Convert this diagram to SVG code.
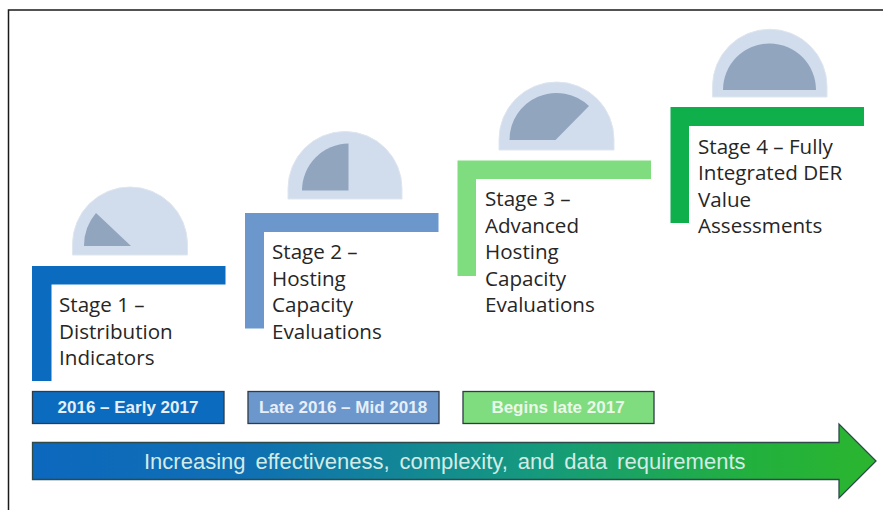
<svg xmlns="http://www.w3.org/2000/svg" width="883" height="510" viewBox="0 0 883 510">
<style>
.gauge{fill:#d1ddec;stroke:#dfe6ef;stroke-width:1}
.fill{fill:#91a5bf}
.stage{font-family:"Open Sans","Noto Sans",sans-serif;font-size:20.6px;fill:#262626}
.date{font-family:"Liberation Sans",Arial,sans-serif;font-size:17px;font-weight:700;text-anchor:middle}
.box{stroke:#2f3b46;stroke-width:1.3}
</style>
<defs>
<linearGradient id="flow" gradientUnits="userSpaceOnUse" x1="32" y1="0" x2="876" y2="0">
<stop offset="0" stop-color="#0c68bd"/>
<stop offset="0.25" stop-color="#0f6fb4"/>
<stop offset="0.6" stop-color="#159a7c"/>
<stop offset="0.85" stop-color="#22b03e"/>
<stop offset="1" stop-color="#2bb52f"/>
</linearGradient>
</defs>
<rect width="883" height="510" fill="#ffffff"/>
<path d="M8.500 510V10H883" fill="none" stroke="#1a1a1a" stroke-width="1.500"/>

<g id="stage-1">
<path class="gauge" d="M72.500 255V244.500A57.500 57.500 0 0 1 187.500 244.500V255Z"/>
<path class="fill" d="M84 246A50 50 0 0 1 96 213L131 246Z"/>
<path d="M32 266H225.500V284.500H51.500V381H32Z" fill="#0b6cbf"/>
<text class="stage" x="59" y="312">Stage 1 –</text>
<text class="stage" x="59" y="338.500">Distribution</text>
<text class="stage" x="59" y="365">Indicators</text>
</g>

<g id="stage-2">
<path class="gauge" d="M288 199V188.500A57 57 0 0 1 402 188.500V199Z"/>
<path class="fill" d="M302 190.500A47 47 0 0 1 348.500 143.500V190.500Z"/>
<path d="M245 213H438.500V232H264V328.500H245Z" fill="#6b97cd"/>
<text class="stage" x="272" y="259">Stage 2 –</text>
<text class="stage" x="272" y="285.500">Hosting</text>
<text class="stage" x="272" y="312">Capacity</text>
<text class="stage" x="272" y="338.500">Evaluations</text>
</g>

<g id="stage-3">
<path class="gauge" d="M499 150V139.500A57.500 57.500 0 0 1 614 139.500V150Z"/>
<path class="fill" d="M509.500 140A47 47 0 0 1 589 106L555.500 140Z"/>
<path d="M457.500 160.500H651V179H476V276H457.500Z" fill="#7fdc7f"/>
<text class="stage" x="485" y="206">Stage 3 –</text>
<text class="stage" x="485" y="233">Advanced</text>
<text class="stage" x="485" y="259">Hosting</text>
<text class="stage" x="485" y="286">Capacity</text>
<text class="stage" x="485" y="312">Evaluations</text>
</g>

<g id="stage-4">
<path class="gauge" d="M712.500 97V86.500A57.250 57.250 0 0 1 827 86.500V97Z"/>
<path class="fill" d="M723 90A46.500 46.500 0 0 1 816 90Z"/>
<path d="M670.500 107H864V126H689V223H670.500Z" fill="#0fb04c"/>
<text class="stage" x="698" y="154">Stage 4 – Fully</text>
<text class="stage" x="698" y="180">Integrated DER</text>
<text class="stage" x="698" y="206.500">Value</text>
<text class="stage" x="698" y="233">Assessments</text>
</g>

<g id="date-1">
<rect class="box" x="32.500" y="391.500" width="191.500" height="32" fill="#0b6cbf"/>
<text class="date" x="128" y="413" fill="#e6eff8">2016 – Early 2017</text>
</g>
<g id="date-2">
<rect class="box" x="248" y="391.500" width="191" height="32" fill="#6b97cd"/>
<text class="date" x="343" y="413" fill="#e6eff8">Late 2016 – Mid 2018</text>
</g>
<g id="date-3">
<rect class="box" x="463" y="391.500" width="191" height="32" fill="#7fdc7f"/>
<text class="date" x="558" y="413" fill="#e9f8e9">Begins late 2017</text>
</g>

<g id="progress-arrow">
<path d="M32.500 442.500H839V424L876 461L839 498V479.500H32.500Z" fill="url(#flow)" stroke="#2f4a4a" stroke-width="1.300"/>
<text x="144" y="469" font-family="Liberation Sans, Arial, sans-serif" font-size="22px" word-spacing="3.800" fill="#d3ebe6">Increasing effectiveness, complexity, and data requirements</text>
</g>
</svg>
